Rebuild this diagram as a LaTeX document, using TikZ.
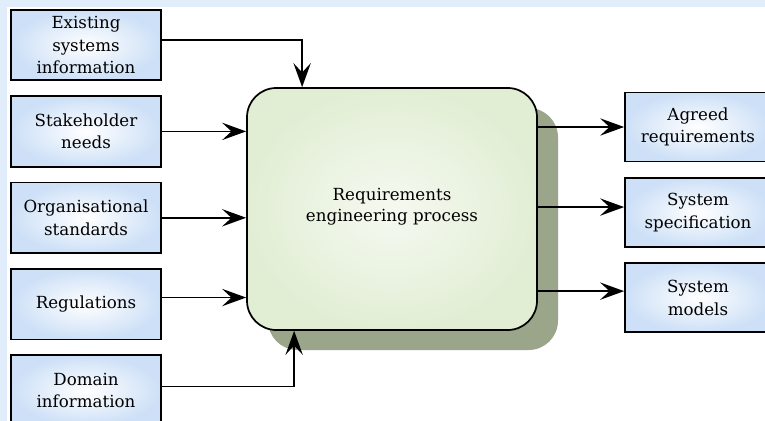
\documentclass[tikz,border=0pt]{standalone}
\usepackage{fontspec}
\setmainfont{DejaVu Serif}
\usepackage{xcolor}
\usepackage{tikz}
\usetikzlibrary{arrows.meta, positioning, shadows}
\definecolor{bgblue}{RGB}{225,237,250}
\definecolor{boxblue}{RGB}{205,224,247}
\definecolor{procgreen}{RGB}{226,238,212}
\definecolor{proclight}{RGB}{245,249,241}
\definecolor{shadowgreen}{RGB}{155,165,138}
\tikzset{
    inbox/.style={rectangle, draw, line width=1.3pt, shading=radial, inner color=white, outer color=boxblue, minimum width=112.5pt, minimum height=53pt, align=center, font=\fontsize{12.5}{17}\selectfont},
    outbox/.style={inbox, minimum width=109.5pt, minimum height=51.75pt},
    process/.style={rectangle, rounded corners=22pt, draw, line width=1.3pt, shading=radial, inner color=proclight, outer color=procgreen, minimum width=217.5pt, minimum height=181.5pt, align=center, font=\fontsize{12.5}{16}\selectfont, drop shadow={shadow xshift=15.75pt, shadow yshift=-15pt, fill=shadowgreen, opacity=1}},
    arrow/.style={-{Stealth[length=18pt, width=13pt, inset=7pt]}, line width=1.3pt}
}
\begin{document}
\begin{tikzpicture}[x=0.75pt, y=-0.75pt, node distance=10.5pt]
    \useasboundingbox (0,0) rectangle (765,421);
    \fill[bgblue] (0,0) rectangle (765,421);
    \fill[white] (7,7) rectangle (765,421);

    % inputs
    \node (exist) [inbox] at (86,45) {Existing\\systems\\information};
    \node (stake) [inbox, below=of exist] {Stakeholder\\needs};
    \node (org) [inbox, below=of stake] {Organisational\\standards};
    \node (reg) [inbox, below=of org] {Regulations};
    \node (domain) [inbox, below=of reg] {Domain\\information};

    % process
    \node (proc) [process] at (392,209) {Requirements\\engineering process\\[-10pt]};

    % outputs
    \node (agreed) [outbox] at (698,127) {Agreed\\requirements};
    \node (spec) [outbox, below=11pt of agreed] {System\\specification};
    \node (models) [outbox, below=11pt of spec] {System\\models};

    \draw[arrow] ([yshift=4pt]exist.east) -| ([xshift=42pt]proc.north west);
    \draw[arrow] (stake.east) -- (stake.east -| proc.west);
    \draw[arrow] (org.east) -- (org.east -| proc.west);
    \draw[arrow] ([yshift=5pt]reg.east) -- ([yshift=5pt]reg.east -| proc.west);
    \draw[arrow] ([yshift=3pt]domain.east) -| ([xshift=36pt]proc.south west);

    \draw[arrow] (proc.east |- agreed.west) -- (agreed.west);
    \draw[arrow] ([yshift=4pt]proc.east |- spec.west) -- ([yshift=4pt]spec.west);
    \draw[arrow] ([yshift=5pt]proc.east |- models.west) -- ([yshift=5pt]models.west);
\end{tikzpicture}
\end{document}
